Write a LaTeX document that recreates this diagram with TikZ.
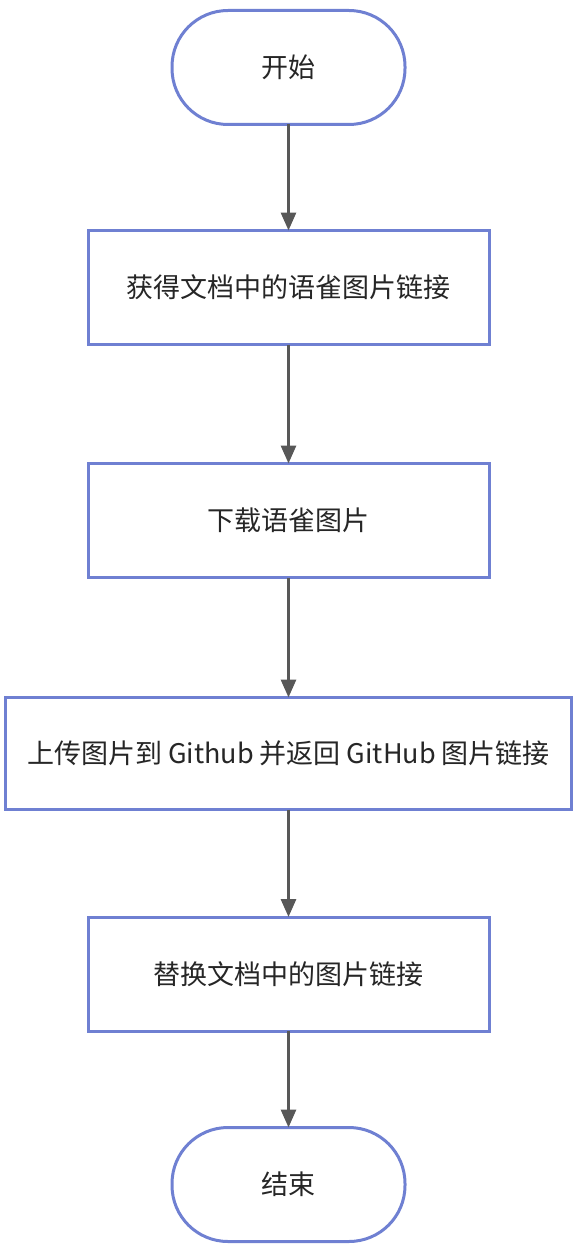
\documentclass[tikz,border=0pt]{standalone}
\usepackage{fontspec}
\usepackage{tikz}
\usetikzlibrary{arrows.meta}
\setmainfont{Noto Sans CJK SC}

\begin{document}
\begin{tikzpicture}[x=1pt,y=-1pt]
  \tikzset{TerminalStyle/.style = {
    shape         = rectangle,
    rounded corners = 56pt,
    draw          = flowblue,
    fill          = white,
    line width    = 3pt,
    text          = black!85,
    inner sep     = 1pt,
    outer sep     = 0pt,
    minimum width = 233pt,
    minimum height = 114pt,
    font          = \fontsize{27}{32}\selectfont
    }
  }
  \tikzset{StepStyle/.style = {
    shape         = rectangle,
    draw          = flowblue,
    fill          = white,
    line width    = 3pt,
    text          = black!85,
    inner sep     = 1pt,
    outer sep     = 0pt,
    minimum width = 401pt,
    minimum height = 114pt,
    font          = \fontsize{27}{32}\selectfont
    }
  }
  \tikzset{EdgeStyle/.style = {
    draw          = arrowgray,
    line width    = 3pt,
    -{Triangle[length=18pt,width=15pt]}
    }
  }
  \definecolor{flowblue}{RGB}{111,128,210}
  \definecolor{arrowgray}{RGB}{88,88,88}

  \useasboundingbox (0,0) rectangle (582,1252);

	\node[TerminalStyle](Start) at (288.5, 67.5) {开始};
	\node[StepStyle](S1) at (288.5, 287.5) {获得文档中的语雀图片链接};
	\node[StepStyle](S2) at (288.5, 520.5) {下载语雀图片};
	\node[StepStyle, minimum width = 566pt, minimum height = 112pt](S3) at (288.5, 753.5) {上传图片到 Github 并返回 GitHub 图片链接};
	\node[StepStyle](S4) at (288.5, 974) {替换文档中的图片链接};
	\node[TerminalStyle](End) at (288.5, 1184.5) {结束};
	\draw[EdgeStyle](Start) to (S1);
	\draw[EdgeStyle](S1) to (S2);
	\draw[EdgeStyle](S2) to (S3);
	\draw[EdgeStyle](S3) to (S4);
	\draw[EdgeStyle](S4) to (End);

\end{tikzpicture}
\end{document}
